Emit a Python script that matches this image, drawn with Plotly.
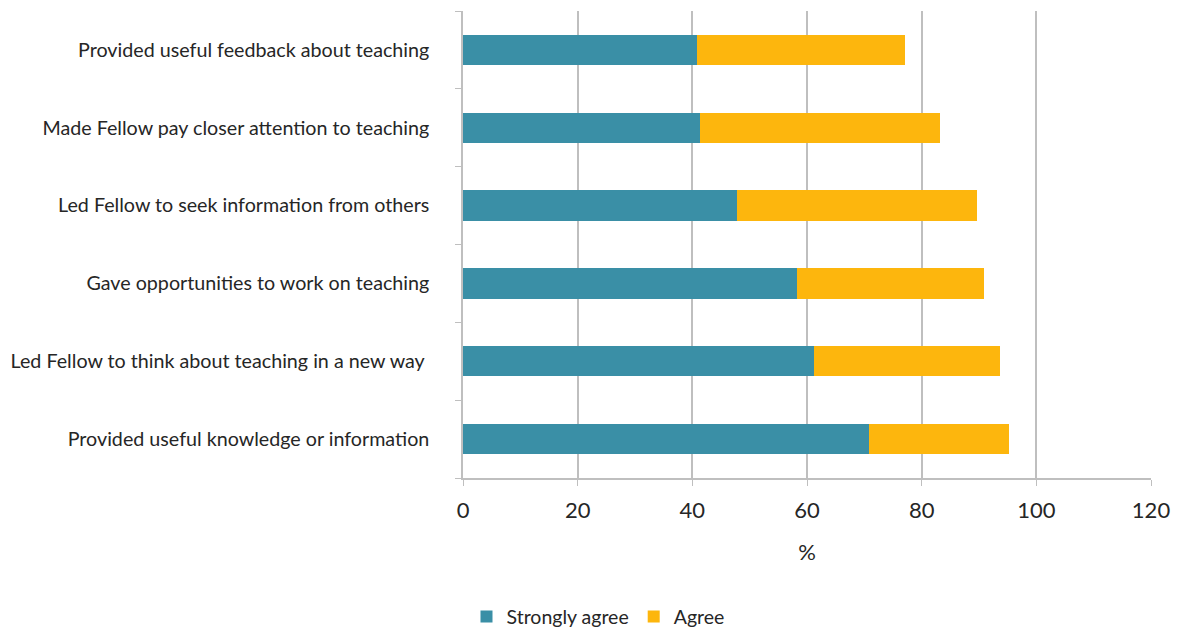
import plotly.graph_objects as go

# Survey items, listed bottom to top as drawn on the y-axis
items = [
    "Provided useful knowledge or information",
    "Led Fellow to think about teaching in a new way ",
    "Gave opportunities to work on teaching",
    "Led Fellow to seek information from others",
    "Made Fellow pay closer attention to teaching",
    "Provided useful feedback about teaching",
]
strongly_agree = [70.9, 61.3, 58.2, 47.8, 41.3, 40.9]
agree = [24.3, 32.3, 32.7, 41.9, 41.9, 36.2]

x_ticks = [0, 20, 40, 60, 80, 100, 120]

TEAL = "#3a8fa6"
GOLD = "#fdb60d"
GRID = "#bfbfbf"
TEXT = "#262626"
FONT = "Lato, 'Open Sans', sans-serif"

fig = go.Figure()
fig.add_trace(go.Bar(
    y=items, x=strongly_agree, name="Strongly agree", orientation="h",
    marker=dict(color=TEAL, line=dict(width=0)),
))
fig.add_trace(go.Bar(
    y=items, x=agree, name="Agree", orientation="h",
    marker=dict(color=GOLD, line=dict(width=0)),
))

fig.update_layout(
    barmode="stack",
    bargap=0.61,
    width=1181,
    height=630,
    margin=dict(l=463, r=30, t=11, b=152, autoexpand=False),
    paper_bgcolor="white",
    plot_bgcolor="white",
    font=dict(family=FONT, color=TEXT, size=19),
    showlegend=True,
    legend=dict(
        orientation="h", xref="container", yref="container",
        x=0.395, xanchor="left", y=0.021, yanchor="middle",
        traceorder="normal", itemwidth=30,
        font=dict(size=19.5, color=TEXT),
    ),
    xaxis=dict(
        range=[0, 120], tickvals=x_ticks, ticktext=[str(v) for v in x_ticks],
        showgrid=True, gridcolor=GRID, gridwidth=1.5,
        showline=True, linecolor=GRID, linewidth=1.5,
        ticks="outside", ticklen=6, tickcolor=GRID,
        tickfont=dict(size=22, color=TEXT),
        ticklabelstandoff=6,
        title=dict(text="%", font=dict(size=22, color=TEXT), standoff=22),
        zeroline=False, fixedrange=True,
    ),
    yaxis=dict(
        showgrid=False,
        showline=True, linecolor=GRID, linewidth=1.5,
        ticks="outside", ticklen=6, tickcolor=GRID,
        tickson="boundaries",
        tickfont=dict(size=19.7, color=TEXT),
        ticklabelstandoff=28,
        fixedrange=True,
    ),
)

fig.write_html("out.html")
